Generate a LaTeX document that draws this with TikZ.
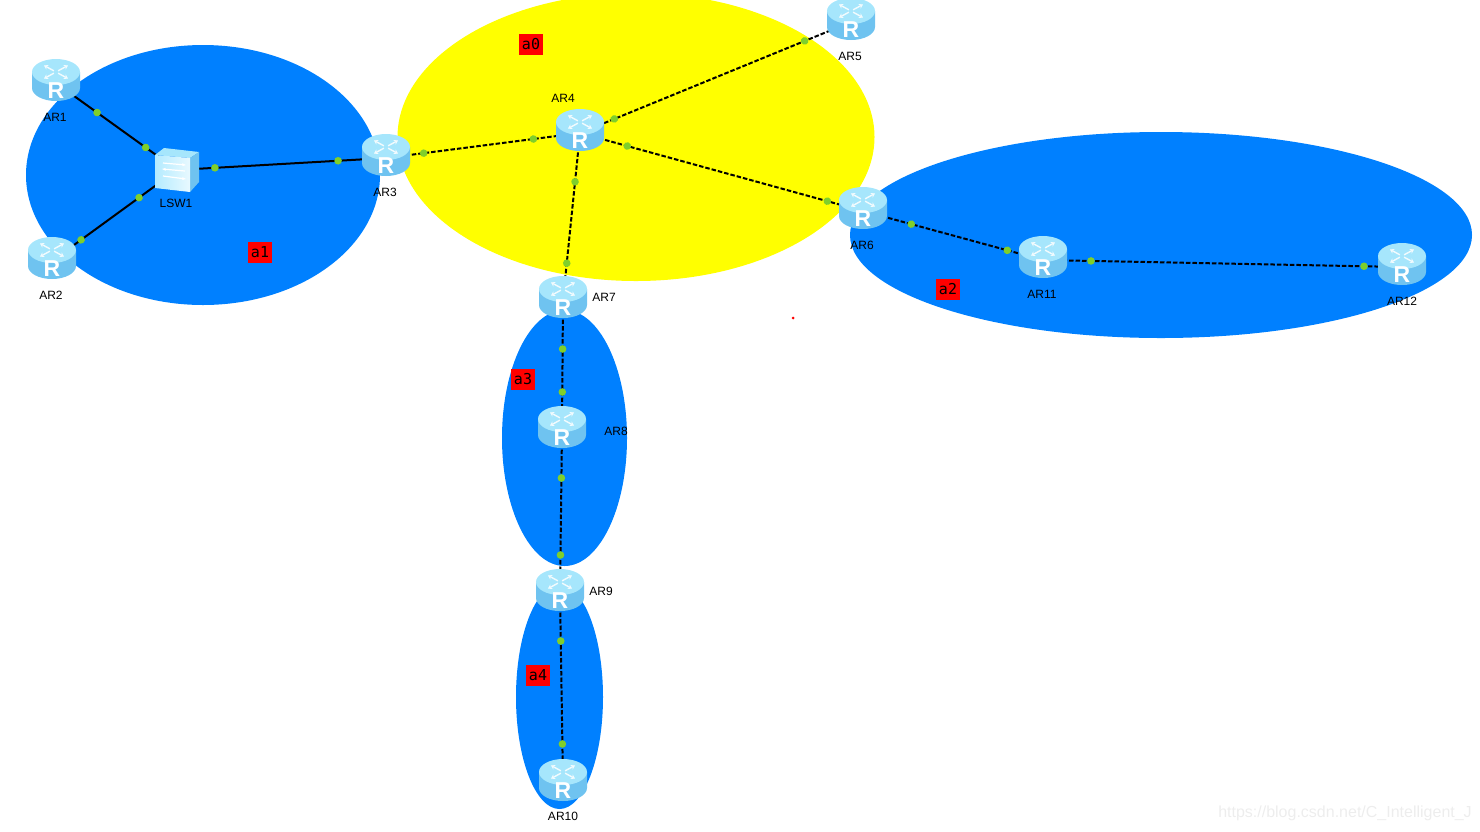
\documentclass[tikz,border=0pt]{standalone}
\usepackage{fontspec}
\setmainfont{Liberation Sans}
\newfontfamily\tagfont{DejaVu Sans Mono}
\usetikzlibrary{arrows.meta, backgrounds, decorations.markings}
\definecolor{areablue}{HTML}{0080FF}
\definecolor{areayellow}{HTML}{FFFF00}
\definecolor{tagred}{HTML}{FF0000}
\definecolor{dotgreen}{HTML}{7FCF2B}
\definecolor{bodyblue}{HTML}{6FC3F0}
\definecolor{bodylight}{HTML}{B4EBFF}
\definecolor{topblue}{HTML}{A6E6FC}
\definecolor{markgrey}{HTML}{EDEDED}

\begin{document}
\begin{tikzpicture}[x=1pt, y=-1pt,
  router/.style={minimum width=48pt, minimum height=43pt, inner sep=0pt,
    text=white, font=\fontsize{23}{23}\selectfont\bfseries, text height=32pt, text depth=2pt},
  routerbody/.pic={
    \shade[left color=bodyblue, middle color=bodylight, right color=bodyblue]
      (-24,-11) -- (-24,5) arc[start angle=180, end angle=0, x radius=24, y radius=13]
      -- (24,-11) -- cycle;
    \fill[topblue] (0,-11) ellipse [x radius=24, y radius=13];
    \foreach \a in {45,135,225,315}
      \draw[white!85!topblue, line width=1.4pt, -{Stealth[length=4pt, width=5pt]}, yshift=11pt, yscale=0.55, rotate=\a]
        (0,-3) -- (0,-17);
  },
  lsw/.style={minimum width=44pt, minimum height=44pt, inner sep=0pt},
  lswbody/.pic={
    \fill[topblue] (-22,-15) -- (-13,-22) -- (22,-18) -- (13,-12) -- cycle;
    \fill[bodyblue] (13,-12) -- (22,-18) -- (22,12) -- (13,22) -- cycle;
    \shade[left color=bodylight, right color=white!70!bodylight] (-22,-15) -- (13,-12) -- (13,22) -- (-22,18) -- cycle;
    \draw[white, line width=1.2pt, -{Stealth[length=4pt]}] (-14,-7) -- (9,-5);
    \draw[white, line width=1.2pt, -{Stealth[length=4pt]}] (8,1) -- (-15,-1);
    \draw[white, line width=1.2pt, -{Stealth[length=4pt]}] (-14,6) -- (9,9);
  },
  area/.style={fill=areablue},
  linkdots/.style 2 args={postaction={decorate, decoration={markings,
    mark=at position #1pt with {\fill[dotgreen] (0,0) circle (3.8pt);},
    mark=at position -#2pt with {\fill[dotgreen] (0,0) circle (3.8pt);}}}},
  solidlink/.style={black, line width=2pt},
  dashlink/.style={black, line width=2pt, dash pattern=on 4.5pt off 2pt},
  devlabel/.style={font=\fontsize{12}{12}\selectfont, inner sep=0pt},
  areatag/.style={fill=tagred, minimum width=24pt, minimum height=21pt, inner sep=0pt,
    font=\tagfont\fontsize{15}{15}\selectfont}]
  \useasboundingbox (0,0) rectangle (1480,831);
  \node[router] (AR1) at (56,83) {R};
  \node[router] (AR2) at (52,261) {R};
  \node[lsw] (LSW1) at (177,170) {};
  \node[router] (AR3) at (386,158) {R};
  \node[router] (AR4) at (580,133) {R};
  \node[router] (AR5) at (851,22) {R};
  \node[router] (AR6) at (863,211) {R};
  \node[router] (AR7) at (563,300) {R};
  \node[router] (AR8) at (562,430) {R};
  \node[router] (AR9) at (560,593) {R};
  \node[router] (AR10) at (563,783) {R};
  \node[router] (AR11) at (1043,260) {R};
  \node[router] (AR12) at (1402,267) {R};
  \begin{scope}[on background layer]
    \fill[areayellow] (636,137) ellipse [x radius=238.5, y radius=144];
    \fill[area] (203,175) ellipse [x radius=177, y radius=130];
    \fill[area] (1161,235) ellipse [x radius=311, y radius=103];
    \fill[area] (564.5,438) ellipse [x radius=62.5, y radius=128];
    \fill[area] (559.5,697) ellipse [x radius=43.5, y radius=112];
    \draw[solidlink, linkdots={50.6}{38.6}] (AR1.center) -- (LSW1.center);
    \draw[solidlink, linkdots={36}{47}] (AR2.center) -- (LSW1.center);
    \draw[solidlink, linkdots={38}{48}] (LSW1.center) -- (AR3.center);
    \draw[dashlink, linkdots={38}{47}] (AR3.center) -- (AR4.center);
    \draw[dashlink, linkdots={37}{50}] (AR4.center) -- (AR5.center);
    \draw[dashlink, linkdots={49}{37}] (AR4.center) -- (AR6.center);
    \draw[dashlink, linkdots={49}{37}] (AR4.center) -- (AR7.center);
    \draw[dashlink, linkdots={50}{37}] (AR6.center) -- (AR11.center);
    \draw[dashlink, linkdots={48}{38}] (AR11.center) -- (AR12.center);
    \draw[dashlink, linkdots={49}{38}] (AR7.center) -- (AR8.center);
    \draw[dashlink, linkdots={48}{38}] (AR8.center) -- (AR9.center);
    \draw[dashlink, linkdots={48}{39}] (AR9.center) -- (AR10.center);
    \foreach \n in {AR1,AR2,AR3,AR4,AR5,AR6,AR7,AR8,AR9,AR10,AR11,AR12}
      \pic at (\n.center) {routerbody};
    \pic at (LSW1.center) {lswbody};
  \end{scope}
  \node[devlabel] (AR1l) at (55,117) {AR1};
  \node[devlabel] (AR2l) at (51,295) {AR2};
  \node[devlabel] (LSW1l) at (176,203) {LSW1};
  \node[devlabel] (AR3l) at (385,192) {AR3};
  \node[devlabel] (AR4l) at (563,98) {AR4};
  \node[devlabel] (AR5l) at (850,56) {AR5};
  \node[devlabel] (AR6l) at (862,245) {AR6};
  \node[devlabel] (AR7l) at (604,297) {AR7};
  \node[devlabel] (AR8l) at (616,431) {AR8};
  \node[devlabel] (AR9l) at (601,591) {AR9};
  \node[devlabel] (AR10l) at (563,816) {AR10};
  \node[devlabel] (AR11l) at (1042,294) {AR11};
  \node[devlabel] (AR12l) at (1402,301) {AR12};
  \node[areatag] (a0) at (531,44) {a0};
  \node[areatag] (a1) at (260,252) {a1};
  \node[areatag] (a2) at (948,289) {a2};
  \node[areatag] (a3) at (523,379) {a3};
  \node[areatag] (a4) at (538,675) {a4};
  \fill[tagred] (793,318) circle (1.5pt);
  \node[text=markgrey, font=\fontsize{16}{16}\selectfont, inner sep=0pt] (mark) at (1345,813) {https://blog.csdn.net/C\_Intelligent\_J};
\end{tikzpicture}
\end{document}
